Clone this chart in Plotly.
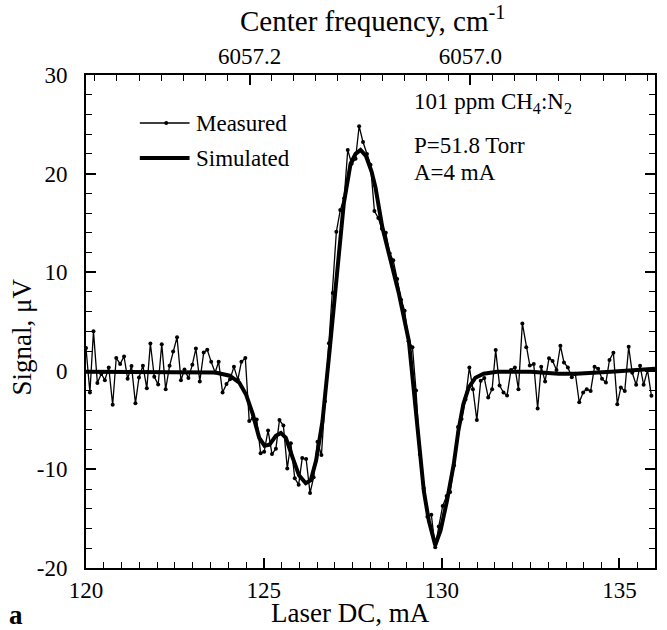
import plotly.graph_objects as go

# Measured signal (Laser DC in mA, signal in µV)
meas_x = [120.00, 120.11, 120.21, 120.32, 120.43, 120.53, 120.64, 120.75, 120.85, 120.96,
          121.07, 121.17, 121.28, 121.39, 121.49, 121.60, 121.71, 121.81, 121.92, 122.03,
          122.13, 122.24, 122.35, 122.45, 122.56, 122.67, 122.77, 122.88, 122.99, 123.09,
          123.20, 123.31, 123.41, 123.52, 123.63, 123.73, 123.84, 123.95, 124.05, 124.16,
          124.27, 124.37, 124.48, 124.59, 124.69, 124.80, 124.91, 125.01, 125.12, 125.23,
          125.34, 125.44, 125.55, 125.66, 125.76, 125.87, 125.98, 126.08, 126.19, 126.30,
          126.40, 126.51, 126.62, 126.72, 126.83, 126.94, 127.04, 127.15, 127.26, 127.36,
          127.47, 127.58, 127.68, 127.79, 127.90, 128.00, 128.11, 128.22, 128.32, 128.43,
          128.54, 128.64, 128.75, 128.86, 128.96, 129.07, 129.18, 129.28, 129.39, 129.50,
          129.60, 129.71, 129.82, 129.92, 130.03, 130.14, 130.24, 130.35, 130.46, 130.56,
          130.67, 130.78, 130.88, 130.99, 131.10, 131.20, 131.31, 131.42, 131.52, 131.63,
          131.74, 131.84, 131.95, 132.06, 132.16, 132.27, 132.38, 132.48, 132.59, 132.70,
          132.80, 132.91, 133.02, 133.12, 133.23, 133.34, 133.44, 133.55, 133.66, 133.76,
          133.87, 133.98, 134.08, 134.19, 134.30, 134.40, 134.51, 134.62, 134.72, 134.83,
          134.94, 135.04, 135.15, 135.26, 135.36, 135.47, 135.58, 135.68, 135.79, 135.90]
meas_y = [2.3, -2.2, 4.0, -1.25, -0.3, -0.95, 0.34, -3.45, 1.3, 0.7,
          1.45, -0.8, 0.48, -3.3, -0.68, 0.52, -1.78, 2.77, -0.6, -1.4,
          2.7, -1.88, 0.5, 1.96, 3.4, -0.95, 0.12, -0.74, 0.62, 2.26,
          -1.08, 1.86, 2.13, 0.91, -0.17, 0.91, -2.2, -1.35, -0.85, 0.4,
          -0.9, 0.91, 1.3, -5.1, -4.85, -4.95, -8.35, -8.2, -6.05, -8.45,
          -7.9, -5.0, -5.55, -9.9, -7.35, -10.9, -11.55, -8.85, -8.95, -12.4,
          -10.8, -7.2, -8.55, -3.1, 2.8, 7.9, 14.1, 16.3, 17.5, 22.4,
          21.0, 21.5, 24.8, 23.2, 22.0, 20.9, 16.2, 15.5, 14.4, 14.0,
          11.9, 11.2, 9.3, 7.2, 6.1, 3.0, 2.4, -2.0, -8.5, -11.9,
          -14.8, -14.6, -17.9, -15.8, -13.7, -12.7, -12.3, -9.6, -5.7, -4.9,
          -2.9, 0.34, -1.86, -5.0, -1.0, -0.74, -2.7, -1.86, 2.1, -1.5,
          -2.2, -2.5, 0.07, 0.34, -1.86, 4.8, 2.4, 0.55, 0.68, -3.82,
          0.4, -1.08, 1.28, 1.0, 0.07, 2.54, 0.85, 0.34, -0.65, -0.3,
          -3.2, -2.2, -1.86, -2.05, 0.4, 0.2, -0.8, -1.18, 1.1, 1.83,
          -3.38, -1.69, -2.05, 2.43, -0.2, -1.42, 0.5, -1.42, 0.07, -2.54]

# Simulated signal
sim_x = [120.00, 120.98, 121.97, 122.95, 123.64, 124.04, 124.31, 124.50, 124.69, 124.87,
         125.02, 125.16, 125.34, 125.48, 125.62, 125.81, 125.99, 126.18, 126.32, 126.47,
         126.65, 126.84, 126.98, 127.09, 127.25, 127.44, 127.58, 127.72, 127.87, 128.03,
         128.14, 128.33, 128.52, 128.80, 129.08, 129.25, 129.39, 129.50, 129.64, 129.82,
         129.97, 130.15, 130.34, 130.47, 130.61, 130.76, 130.95, 131.18, 131.56, 132.50,
         133.29, 133.78, 134.76, 135.74, 136.00]
sim_y = [-0.1, -0.1, -0.1, -0.1, -0.17, -0.5, -1.2, -2.4, -4.4, -6.8,
         -7.6, -7.5, -6.6, -6.3, -6.8, -8.8, -10.6, -11.4, -11.1, -9.1,
         -5.1, 1.7, 7.1, 11.0, 17.0, 21.0, 22.0, 22.4, 21.8, 20.2,
         18.6, 14.6, 11.9, 7.8, 3.0, -3.0, -8.5, -12.2, -15.2, -17.7,
         -16.2, -13.2, -9.5, -6.1, -3.4, -1.7, -0.7, -0.3, -0.1, -0.1,
         -0.3, -0.3, -0.1, 0.1, 0.2]

x_ticks = [120, 125, 130, 135]
y_ticks = [-20, -10, 0, 10, 20, 30]
y_tick_text = ["-20", "-10", "0", "10", "20", "30"]
freq_ticks = [6057.2, 6057.0]
freq_tick_text = ["6057.2", "6057.0"]

FONT = "Liberation Serif, Times New Roman, serif"
FS = 23
FT = 27

fig = go.Figure()
fig.add_trace(go.Scatter(x=sim_x, y=sim_y, mode="lines",
                         line=dict(color="black", width=4), showlegend=False,
                         hoverinfo="skip"))
fig.add_trace(go.Scatter(x=meas_x, y=meas_y, mode="lines+markers",
                         line=dict(color="black", width=1.3),
                         marker=dict(color="black", size=4), showlegend=False))
# dummy trace on the top (frequency) axis
fig.add_trace(go.Scatter(x=[6057.1], y=[None], xaxis="x2", mode="markers",
                         showlegend=False, hoverinfo="skip"))

axis_common = dict(showline=True, linecolor="black", linewidth=2, showgrid=False,
                   zeroline=False, ticks="inside", tickcolor="black", tickwidth=1.5,
                   tickfont=dict(family=FONT, size=FS, color="black"))

fig.update_layout(
    width=667, height=630,
    margin=dict(l=86, r=10, t=75, b=62),
    paper_bgcolor="white", plot_bgcolor="white",
    font=dict(family=FONT, size=FS, color="black"),
    xaxis=dict(range=[120, 136], tickvals=x_ticks, ticklen=10,
               minor=dict(dtick=0.5, tick0=120, ticks="inside", ticklen=6,
                          tickcolor="black", tickwidth=1.2),
               mirror=False, **axis_common),
    xaxis2=dict(overlaying="x", side="top", anchor="y",
                range=[6057.348, 6056.833], tickvals=freq_ticks,
                ticktext=freq_tick_text, ticklen=10,
                minor=dict(dtick=0.02, tick0=6057.0, ticks="inside", ticklen=6,
                           tickcolor="black", tickwidth=1.2),
                **axis_common),
    yaxis=dict(range=[-20, 30], tickvals=y_ticks, ticktext=y_tick_text, ticklen=10,
               minor=dict(dtick=2, tick0=0, ticks="inside", ticklen=6,
                          tickcolor="black", tickwidth=1.2),
               mirror="ticks", ticklabelstandoff=12, **axis_common),
)

# legend (drawn manually)
leg_rows = [("Measured", 0.9026), ("Simulated", 0.8316)]
fig.add_shape(type="line", xref="paper", yref="paper", x0=0.0946, x1=0.182,
              y0=leg_rows[0][1], y1=leg_rows[0][1], line=dict(color="black", width=1.3))
fig.add_shape(type="circle", xref="paper", yref="paper", x0=0.1375, x1=0.1445,
              y0=leg_rows[0][1] - 0.004, y1=leg_rows[0][1] + 0.004,
              fillcolor="black", line=dict(color="black", width=0))
fig.add_shape(type="line", xref="paper", yref="paper", x0=0.0946, x1=0.182,
              y0=leg_rows[1][1], y1=leg_rows[1][1], line=dict(color="black", width=4))
for txt, yy in leg_rows:
    fig.add_annotation(text=txt, xref="paper", yref="paper", x=0.190, y=yy,
                       xanchor="left", yanchor="middle", showarrow=False,
                       font=dict(family=FONT, size=FS, color="black"))

# conditions
fig.add_annotation(text="101 ppm CH<sub>4</sub>:N<sub>2</sub>", xref="paper", yref="paper",
                   x=0.5727, y=0.943, xanchor="left", yanchor="middle", showarrow=False)
fig.add_annotation(text="P=51.8 Torr", xref="paper", yref="paper",
                   x=0.5727, y=0.858, xanchor="left", yanchor="middle", showarrow=False)
fig.add_annotation(text="A=4 mA", xref="paper", yref="paper",
                   x=0.5727, y=0.803, xanchor="left", yanchor="middle", showarrow=False)

# axis titles
fig.add_annotation(text="Center frequency, cm<sup>-1</sup>", xref="paper", yref="paper",
                   x=0.504, y=1.114, xanchor="center", yanchor="middle", showarrow=False,
                   font=dict(size=29))
fig.add_annotation(text="Laser DC, mA", xref="paper", yref="paper",
                   x=0.464, y=-0.091, xanchor="center", yanchor="middle", showarrow=False,
                   font=dict(size=FT))
fig.add_annotation(text="Signal, μV", xref="paper", yref="paper", textangle=-90,
                   x=-0.112, y=0.468, xanchor="center", yanchor="middle", showarrow=False,
                   font=dict(size=FT))
fig.add_annotation(text="<b>a</b>", xref="paper", yref="paper",
                   x=-0.123, y=-0.095, xanchor="center", yanchor="middle", showarrow=False,
                   font=dict(size=FT))

fig.write_html("out.html")
